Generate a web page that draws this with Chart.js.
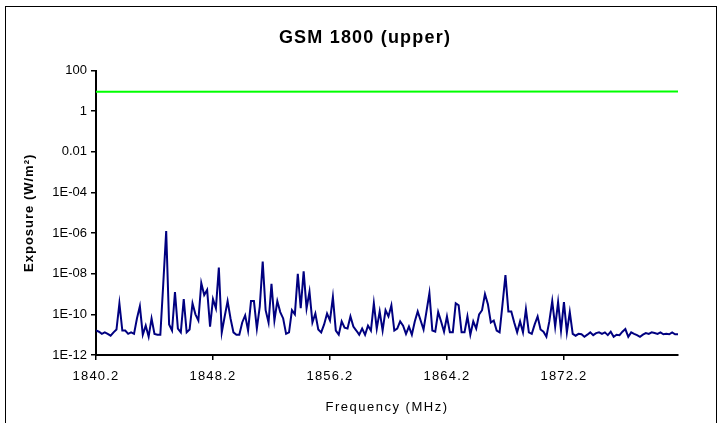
<!DOCTYPE html>
<html><head><meta charset="utf-8">
<script src="https://cdn.jsdelivr.net/npm/chart.js@4.4.1/dist/chart.umd.min.js"></script>
<style>html,body{margin:0;padding:0;background:#fff}#wrap{width:721px;height:423px;position:relative}</style>
</head><body><div id="wrap"><canvas id="c" width="721" height="423"></canvas></div>
<script>
const START_FREQ = 1840.2;
const FREQ_STEP = 0.2;
const exposure = [
1.6e-11,1.4e-11,1.1e-11,1.3e-11,1.1e-11,8.9e-12,1.3e-11,1.8e-11,3.5e-10,1.6e-11,
1.6e-11,1.1e-11,1.3e-11,1.1e-11,6.3e-11,2.5e-10,1.0e-11,2.8e-11,7.9e-12,6.3e-11,
1.1e-11,1.0e-11,1.0e-11,3.2e-9,1.26e-6,3.2e-11,1.6e-11,1.26e-9,2.0e-11,1.3e-11,
5.6e-10,1.3e-11,1.8e-11,3.5e-10,1.0e-10,5.0e-11,3.5e-9,8.9e-10,1.6e-9,2.5e-11,
5.6e-10,2.0e-10,2.0e-8,1.3e-11,7.9e-11,4.5e-10,6.3e-11,1.3e-11,1.0e-11,1.0e-11,
4.0e-11,8.9e-11,1.6e-11,4.5e-10,4.5e-10,2.0e-11,2.5e-10,4.0e-8,1.6e-10,4.0e-11,
3.2e-9,5.0e-11,4.5e-10,1.3e-10,6.3e-11,1.1e-11,1.3e-11,1.6e-10,1.0e-10,1.0e-8,
2.0e-10,1.3e-8,2.0e-10,1.3e-9,4.0e-11,1.1e-10,1.8e-11,1.3e-11,3.2e-11,1.1e-10,
5.0e-11,7.1e-10,1.6e-11,1.0e-11,4.5e-11,2.2e-11,2.0e-11,7.9e-11,2.5e-11,1.6e-11,
1.0e-11,2.0e-11,1.0e-11,2.8e-11,1.6e-11,3.5e-10,2.0e-11,1.4e-10,1.6e-11,1.6e-10,
7.9e-11,2.8e-10,1.6e-11,2.0e-11,4.5e-11,2.8e-11,1.1e-11,2.5e-11,1.0e-11,4.5e-11,
1.4e-10,5.0e-11,1.8e-11,1.4e-10,1.1e-9,1.6e-11,1.4e-11,1.3e-10,4.5e-11,1.4e-11,
7.9e-11,1.3e-11,1.3e-11,3.5e-10,2.8e-10,1.3e-11,1.3e-11,7.9e-11,1.0e-11,4.5e-11,
2.0e-11,1.0e-10,1.6e-10,1.0e-9,3.2e-10,4.0e-11,5.0e-11,1.6e-11,1.3e-11,3.2e-10,
8.5e-9,1.4e-10,1.4e-10,4.0e-11,1.3e-11,4.5e-11,1.3e-11,1.8e-10,1.3e-11,1.1e-11,
3.2e-11,7.9e-11,1.8e-11,1.4e-11,7.9e-12,4.5e-11,4.5e-10,2.5e-11,4.0e-10,1.6e-11,
4.0e-10,1.3e-11,1.3e-10,1.1e-11,8.9e-12,1.1e-11,1.05e-11,7.9e-12,1.0e-11,1.3e-11,
9.5e-12,1.2e-11,1.3e-11,1.1e-11,1.3e-11,9.5e-12,1.4e-11,7.9e-12,1.0e-11,9.5e-12,
1.4e-11,1.9e-11,7.9e-12,1.3e-11,1.1e-11,9.5e-12,7.9e-12,1.0e-11,1.2e-11,1.1e-11,
1.3e-11,1.2e-11,1.1e-11,1.3e-11,1.05e-11,1.1e-11,1.05e-11,1.3e-11,1.05e-11,1.05e-11
];
const limitEnds = [9.2, 9.4];
const xTickValues = [1840.2, 1848.2, 1856.2, 1864.2, 1872.2];
const yTickValues = [1e-12, 1e-10, 1e-8, 1e-6, 1e-4, 1e-2, 1, 100];
const yTickLabels = ['1E-12', '1E-10', '1E-08', '1E-06', '1E-04', '0.01', '1', '100'];

const frequencies = exposure.map((_, i) => +(START_FREQ + FREQ_STEP * i).toFixed(1));
const lastF = frequencies[frequencies.length - 1];

const FONT = 'Liberation Sans, Arial, sans-serif';

// Excel-style wider text spacing, chosen per font size
const spacingPlugin = {
  id: 'spacing',
  beforeDraw(chart) {
    const ctx = chart.ctx;
    if (ctx.__patched) return;
    ctx.__patched = true;
    const orig = ctx.fillText;
    ctx.fillText = function (t, x, y, m) {
      const f = this.font;
      let sp = '0px';
      if (/bold 18px/.test(f)) sp = '1.2px';
      else if (/bold 13px/.test(f)) sp = '1px';
      else if (/13\.01px/.test(f)) sp = '1.2px';
      else if (/13\.02px/.test(f)) sp = '1.5px';
      this.letterSpacing = sp;
      const r = orig.call(this, t, x, y, m);
      this.letterSpacing = '0px';
      return r;
    };
  }
};

const framePlugin = {
  id: 'frame',
  beforeDraw(chart) {
    const ctx = chart.ctx;
    ctx.save();
    ctx.fillStyle = '#fff';
    ctx.fillRect(0, 0, chart.width, chart.height);
    ctx.strokeStyle = '#000';
    ctx.lineWidth = 1;
    ctx.strokeRect(5.5, 6.5, 711, 440);
    ctx.restore();
  }
};

new Chart(document.getElementById('c'), {
  type: 'line',
  data: {
    datasets: [
      {
        label: 'Exposure',
        data: exposure.map((y, i) => ({x: frequencies[i], y})),
        borderColor: '#000080',
        borderWidth: 2,
        pointRadius: 0,
        tension: 0,
        order: 1
      },
      {
        label: 'Limit',
        data: [{x: frequencies[0], y: limitEnds[0]}, {x: lastF, y: limitEnds[1]}],
        borderColor: '#00ff00',
        borderWidth: 2,
        pointRadius: 0,
        order: 2
      }
    ]
  },
  options: {
    responsive: false,
    devicePixelRatio: 1,
    animation: false,
    layout: { padding: { left: 9, right: 0, top: 8, bottom: 0 } },
    plugins: {
      legend: { display: false },
      tooltip: { enabled: false },
      title: {
        display: true,
        text: 'GSM 1800 (upper)',
        color: '#000',
        font: { family: FONT, size: 18, weight: 'bold' },
        padding: { top: 19, bottom: 22 }
      }
    },
    scales: {
      x: {
        type: 'linear',
        min: frequencies[0],
        max: lastF,
        afterBuildTicks: s => { s.ticks = xTickValues.map(v => ({ value: v })); },
        afterFit: s => { s.height = 68; },
        ticks: {
          autoSkip: false, maxRotation: 0, color: '#000', padding: 9,
          font: { family: FONT, size: 13.01 },
          callback: v => Number(v).toFixed(1)
        },
        grid: { drawOnChartArea: false, color: '#000', tickLength: 5, lineWidth: 1.5 },
        border: { color: '#000', width: 2 },
        title: {
          display: true, text: 'Frequency (MHz)', color: '#000',
          font: { family: FONT, size: 13.02 },
          padding: { top: 0, bottom: 8 }
        }
      },
      y: {
        type: 'logarithmic',
        min: 1e-12,
        max: 100,
        afterBuildTicks: s => { s.ticks = yTickValues.map(v => ({ value: v })); },
        afterFit: s => { s.width = 87; },
        ticks: {
          autoSkip: false, color: '#000', padding: 4,
          font: { family: FONT, size: 13 },
          callback: (v) => { const k = yTickValues.indexOf(v); return k >= 0 ? yTickLabels[k] : ''; }
        },
        grid: { drawOnChartArea: false, color: '#000', tickLength: 5, lineWidth: 1.5 },
        border: { color: '#000', width: 2 },
        title: {
          display: true, text: 'Exposure (W/m²)', color: '#000',
          font: { family: FONT, size: 13, weight: 'bold' },
          padding: { top: 13, bottom: 0 }
        }
      },
      yRight: {
        type: 'linear',
        position: 'right',
        display: true,
        grid: { display: false },
        border: { display: false },
        ticks: { display: false },
        afterFit: s => { s.width = 43; }
      }
    }
  },
  plugins: [framePlugin, spacingPlugin]
});
</script>
</body></html>
